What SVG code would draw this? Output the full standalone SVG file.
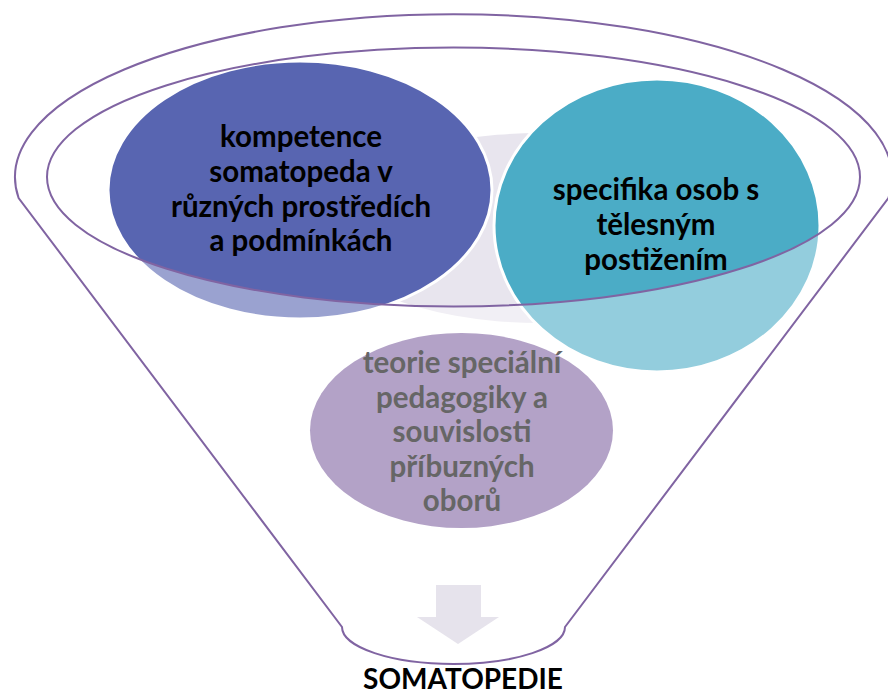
<svg xmlns="http://www.w3.org/2000/svg" width="888" height="697" viewBox="0 0 888 697">
  <style>
    .lbl { font-family: Lato, "Liberation Sans", sans-serif; font-weight: bold; font-size: 29.5px; text-anchor: middle; fill: #000000; }
    .gray { fill: #666666; }
    .circ { stroke: #FFFFFF; stroke-width: 3; }
    .rim { fill: none; stroke: #8064A2; stroke-width: 2; }
  </style>
  <rect x="0" y="0" width="888" height="697" fill="#FFFFFF"/>

  <!-- background grey shape -->
  <ellipse id="backdrop" cx="540" cy="228" rx="220" ry="95" fill="#E8E5EE"/>

  <g id="node-kompetence">
    <ellipse class="circ" cx="300" cy="190" rx="192" ry="129" fill="#5865B1"/>
    <text class="lbl" x="301" y="147">kompetence</text>
    <text class="lbl" x="301" y="182">somatopeda v</text>
    <text class="lbl" x="301" y="217">různých prostředích</text>
    <text class="lbl" x="301" y="251">a podmínkách</text>
  </g>

  <g id="node-specifika">
    <ellipse class="circ" cx="657" cy="225.5" rx="163" ry="146.5" fill="#4BACC6"/>
    <text class="lbl" x="656" y="200">specifika osob s</text>
    <text class="lbl" x="656" y="235">tělesným</text>
    <text class="lbl" x="656" y="270">postižením</text>
  </g>

  <!-- funnel body translucent overlay -->
  <path id="funnel-body" fill="#FFFFFF" fill-opacity="0.4" fill-rule="evenodd"
        d="M 18.6,198 A 438.5,163 0 1 1 888.4,198 L 565,627 A 111.5,37 0 0 1 342,627 Z
           M 47,177 A 406.5,129.5 0 1 0 860,177 A 406.5,129.5 0 1 0 47,177 Z"/>

  <g id="node-teorie">
    <ellipse cx="461.5" cy="430.5" rx="151.5" ry="97.5" fill="#B3A2C7"/>
    <text class="lbl gray" x="462" y="373">teorie speciální</text>
    <text class="lbl gray" x="462" y="407.5">pedagogiky a</text>
    <text class="lbl gray" x="462" y="442">souvislosti</text>
    <text class="lbl gray" x="462" y="476.5">příbuzných</text>
    <text class="lbl gray" x="462" y="511">oborů</text>
  </g>

  <g id="funnel">
    <path class="rim" d="M 18.6,198 A 438.5,163 0 1 1 888.4,198 L 565,627 A 111.5,37 0 0 1 342,627 Z"/>
    <ellipse class="rim" cx="453.5" cy="177" rx="406.5" ry="129.5"/>
  </g>

  <g id="connectors">
    <polygon points="436,585 481,585 481,617 499,617 458,644 417,617 436,617" fill="#E6E3EC"/>
  </g>

  <g id="node-somatopedie">
    <text class="lbl" x="463" y="689" style="font-size:28px">SOMATOPEDIE</text>
  </g>
</svg>
